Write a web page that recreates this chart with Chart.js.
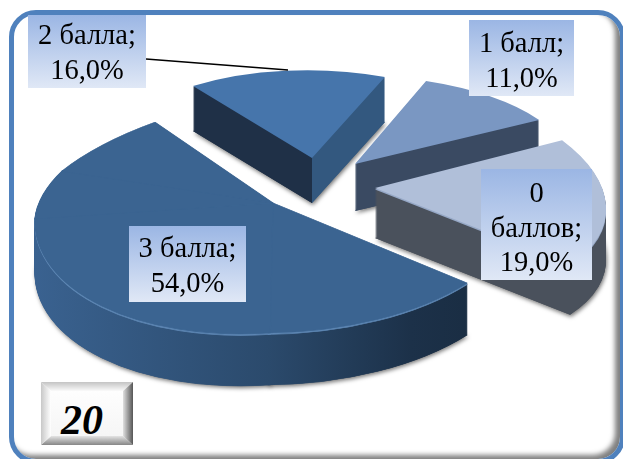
<!DOCTYPE html>
<html>
<head>
<meta charset="utf-8">
<script src="https://cdn.jsdelivr.net/npm/chart.js@4"></script>
<style>
  html, body { margin: 0; padding: 0; background: #fff; overflow: hidden; }
  #page { position: relative; width: 623px; height: 459px; overflow: hidden; }
  #frame {
    position: absolute; left: 9px; top: 10px; width: 606px; height: 444px;
    border: 5px solid #4f81bd; border-radius: 27px; background: #fff;
    box-shadow: inset -5px -4px 5px rgba(0,0,0,.5);
  }
  #chart { position: absolute; left: 0; top: 0; }
  #num {
    position: absolute; left: 41px; top: 382px; width: 92px; height: 63px;
    background: linear-gradient(#ffffff, #f4f4f4);
    font: italic bold 42px "Liberation Serif", serif; color: #000;
  }
  #num div { position: absolute; left: 0; top: 0; width: 92px; height: 63px; }
  #num .t { clip-path: polygon(0 0, 92px 0, 82px 9px, 10px 9px); background: linear-gradient(#c4c4c4, #fafafa 9px); }
  #num .b { clip-path: polygon(0 63px, 92px 63px, 82px 54px, 10px 54px); background: linear-gradient(#e4e4e4 54px, #868686); }
  #num .l { clip-path: polygon(0 0, 10px 9px, 10px 54px, 0 63px); background: linear-gradient(to right, #c8c8c8, #ffffff 10px); }
  #num .r { clip-path: polygon(92px 0, 82px 9px, 82px 54px, 92px 63px); background: linear-gradient(to right, #e0e0e0 82px, #565656); }
  #num span { position: absolute; left: 20px; top: 17px; line-height: 42px; }
</style>
</head>
<body>
<div id="page">
  <div id="frame"></div>
  <canvas id="chart" width="623" height="459"></canvas>
  <div id="num"><div class="t"></div><div class="b"></div><div class="l"></div><div class="r"></div><span>20</span></div>
</div>
<script>
// values, clockwise from the lower right edge
var categories = ['3 балла', '2 балла', '1 балл', '0 баллов'];
var percents = [54, 16, 11, 19];
var topColors = ['#3b6491', '#4675ab', '#7a97c2', '#b0bfd9'];
var rimColors = ['#5d86b3', null, null, '#96a8c6'];
var rotationDeg = 129;

// how each slice sits in the fake 3d view: apex, tilt matrix [a,b,c,d], wall height
// the big slice needs a few pieces because the far side shrinks with perspective
var sliceViews = [
  [ { upto: 180, apex: [273, 203], m: [253.7, -5, -2.3, 130], depth: 52 },
    { upto: 270, apex: [273, 203], m: [238, -5, -15, 130], depth: 52 },
    { upto: 295, apex: [273, 203], m: [238, -13.2, -15, 110], depth: 52 },
    { upto: 360, apex: [273, 203], m: [249.7, -38.4, -16.4, 113], depth: 52 } ],
  [ { apex: [312, 158], m: [201, -1, 2.6, 87.8], depth: 45 } ],
  [ { apex: [355, 164], m: [215, 6.4, -0.5, 88.6], depth: 47 } ],
  [ { apex: [375, 188], m: [229.6, 26.4, 8.2, 112], depth: 50 } ]
];
// wall colours left to right (across the slice), a repeated stop gives a hard edge
var wallStops = [
  [[0, '#3a6290'], [0.5, '#2b4a6c'], [0.78, '#1c3149'], [1, '#182a3e']],
  [[0, '#1f3047'], [0.5, '#1f3047'], [0.5, '#33587f'], [1, '#33587f']],
  [[0, '#3a4a62'], [1, '#3a4a62']],
  [[0, '#4a515c'], [1, '#4a515c']]
];
var drawOrder = [1, 2, 3, 0];

// label boxes: left, top, right, bottom, first baseline
var labelBoxes = [
  [129, 226, 246, 302, 257],
  [28, 15, 146, 88, 44],
  [469, 20, 574, 96, 52],
  [481, 169, 592, 280, 202]
];
var lineStep = 34.5;
var leader = [[146, 59], [288, 70]];

function drawPart(ctx, arc, view, from, to, k, color, seam) {
  var R = arc.outerRadius;
  var part = Object.create(arc);
  part.startAngle = from;
  part.endAngle = to;
  part.circumference = to - from;
  part.options = Object.assign({}, arc.options, {
    backgroundColor: color,
    borderColor: color,
    borderWidth: seam ? 1 : 0
  });
  ctx.save();
  ctx.transform(view.m[0] / R, view.m[2] / R, view.m[1] / R, view.m[3] / R, view.apex[0], view.apex[1] + k);
  ctx.translate(-arc.x, -arc.y);
  part.draw(ctx);
  ctx.restore();
}

var slices3d = {
  id: 'slices3d',
  beforeDatasetsDraw: function (chart) {
    var ctx = chart.ctx;
    var arcs = chart.getDatasetMeta(0).data;
    drawOrder.forEach(function (i) {
      var arc = arcs[i], views = sliceViews[i];
      var R = arc.outerRadius;
      var wall = ctx.createLinearGradient(arc.x - R, 0, arc.x + R, 0);
      wallStops[i].forEach(function (s) { wall.addColorStop(s[0], s[1]); });

      var from = arc.startAngle, pieces = [];
      views.forEach(function (v, n) {
        var to = n === views.length - 1 ? arc.endAngle : (v.upto - 90) * Math.PI / 180;
        // small overlap so the seam between two pieces does not show
        pieces.push([v, n > 0 ? from - 0.01 : from, to]);
        from = to;
      });
      var multi = pieces.length > 1;

      // soft shadow goes first so no piece casts it on its neighbour
      ctx.save();
      ctx.shadowColor = 'rgba(0,0,0,.55)';
      ctx.shadowBlur = 4;
      ctx.shadowOffsetX = 1;
      ctx.shadowOffsetY = 2;
      pieces.forEach(function (p) { drawPart(ctx, arc, p[0], p[1], p[2], p[0].depth, wall); });
      ctx.restore();
      pieces.forEach(function (p) {
        for (var k = p[0].depth; k >= 1; k--) drawPart(ctx, arc, p[0], p[1], p[2], k, wall, multi);
      });
      if (rimColors[i]) {
        pieces.forEach(function (p) { drawPart(ctx, arc, p[0], p[1], p[2], 1.5, rimColors[i], multi); });
      }
      pieces.forEach(function (p) { drawPart(ctx, arc, p[0], p[1], p[2], 0, arc.options.backgroundColor, multi); });
    });
    return false;
  },
  afterDraw: function (chart) {
    var ctx = chart.ctx;
    ctx.save();
    ctx.strokeStyle = '#000';
    ctx.lineWidth = 1.6;
    ctx.beginPath();
    ctx.moveTo(leader[0][0], leader[0][1]);
    ctx.lineTo(leader[1][0], leader[1][1]);
    ctx.stroke();

    ctx.font = '28.5px "Liberation Serif", serif';
    ctx.textAlign = 'center';
    ctx.textBaseline = 'alphabetic';
    categories.forEach(function (cat, i) {
      var b = labelBoxes[i];
      var g = ctx.createLinearGradient(0, b[1], 0, b[3]);
      g.addColorStop(0, '#9bb6e4');
      g.addColorStop(1, '#e0e8f6');
      ctx.fillStyle = g;
      ctx.fillRect(b[0], b[1], b[2] - b[0], b[3] - b[1]);
      var first = cat + ';';
      var lines = ctx.measureText(first).width > b[2] - b[0] - 10 ? first.split(' ') : [first];
      lines.push(percents[i].toFixed(1).replace('.', ',') + '%');
      ctx.fillStyle = '#000';
      lines.forEach(function (t, n) {
        ctx.fillText(t, (b[0] + b[2]) / 2, b[4] + n * lineStep);
      });
    });
    ctx.restore();
  }
};

var chart = new Chart(document.getElementById('chart').getContext('2d'), {
  type: 'pie',
  data: {
    labels: categories,
    datasets: [{ data: percents, backgroundColor: topColors, borderWidth: 0 }]
  },
  options: {
    responsive: false,
    animation: false,
    rotation: rotationDeg,
    plugins: { legend: { display: false }, tooltip: { enabled: false } }
  },
  plugins: [slices3d]
});
</script>
</body>
</html>
